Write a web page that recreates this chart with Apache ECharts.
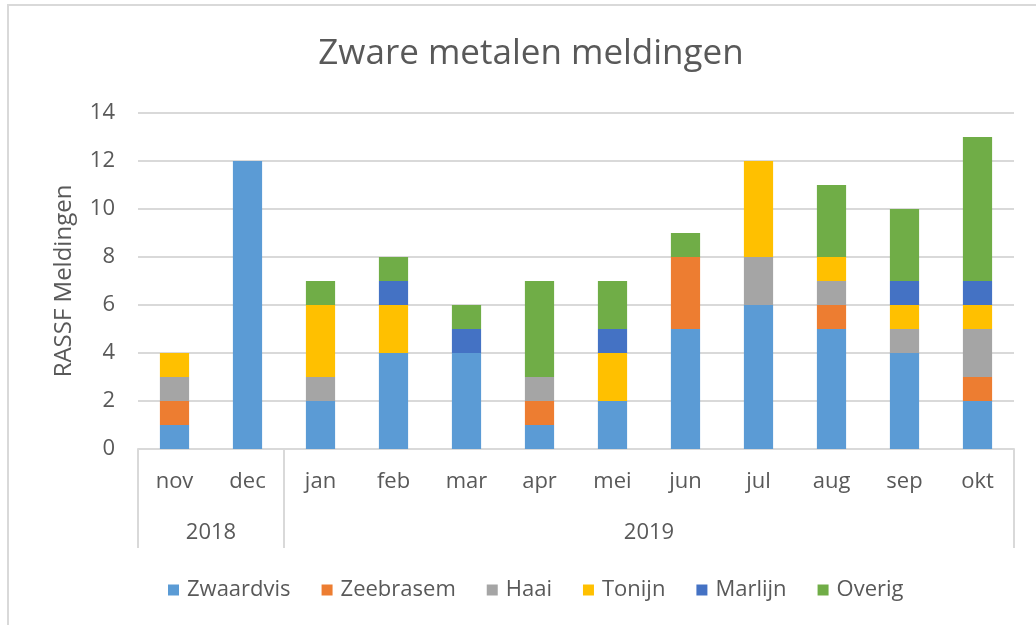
<!DOCTYPE html>
<html>
<head>
<meta charset="utf-8">
<script src="https://cdn.jsdelivr.net/npm/echarts@6/dist/echarts.min.js"></script>
<style>
  html, body { margin: 0; padding: 0; background: #fff; }
  #chart { width: 1036px; height: 625px; }
</style>
</head>
<body>
<div id="chart"></div>
<script>
// maanden en jaren
const months = ["nov", "dec", "jan", "feb", "mar", "apr", "mei", "jun", "jul", "aug", "sep", "okt"]
const years = [
  { label: "2018", from: "nov", to: "dec" },
  { label: "2019", from: "jan", to: "okt" }
]

// meldingen per soort
const zwaardvis = [1, 12, 2, 4, 4, 1, 2, 5, 6, 5, 4, 2]
const zeebrasem = [1, 0, 0, 0, 0, 1, 0, 3, 0, 1, 0, 1]
const haai = [1, 0, 1, 0, 0, 1, 0, 0, 2, 1, 1, 2]
const tonijn = [1, 0, 3, 2, 0, 0, 2, 0, 4, 1, 1, 1]
const marlijn = [0, 0, 0, 1, 1, 0, 1, 0, 0, 0, 1, 1]
const overig = [0, 0, 1, 1, 1, 4, 2, 1, 0, 3, 3, 6]

const yTicks = { min: 0, max: 14, interval: 2 }

const fontName = "Open Sans"
const textColor = "#595959"
const lineColor = "#d9d9d9"
const labelSize = 22

const seriesList = [
  { name: "Zwaardvis", data: zwaardvis, color: "#5B9BD5" },
  { name: "Zeebrasem", data: zeebrasem, color: "#ED7D31" },
  { name: "Haai", data: haai, color: "#A5A5A5" },
  { name: "Tonijn", data: tonijn, color: "#FFC000" },
  { name: "Marlijn", data: marlijn, color: "#4472C4" },
  { name: "Overig", data: overig, color: "#70AD47" }
]

const chart = echarts.init(document.getElementById("chart"), null, { renderer: "canvas" })

const option = {
  backgroundColor: "#fff",
  animation: false,
  textStyle: { fontFamily: fontName },
  title: {
    text: "Zware metalen meldingen",
    left: 526,
    top: 32,
    textAlign: "center",
    textStyle: { fontFamily: fontName, fontSize: 35, fontWeight: "normal", color: textColor }
  },
  legend: {
    bottom: 19,
    left: 163,
    itemWidth: 11,
    itemHeight: 11,
    itemGap: 31,
    icon: "rect",
    textStyle: { fontFamily: fontName, fontSize: labelSize, color: textColor, padding: [0, 0, 0, 3] },
    data: seriesList.map((s) => s.name)
  },
  grid: {
    left: 138,
    right: 22,
    top: 113,
    bottom: 176
  },
  xAxis: {
    type: "category",
    data: months,
    axisLine: { show: true, lineStyle: { color: lineColor, width: 2 } },
    axisTick: { show: false },
    axisLabel: { fontFamily: fontName, fontSize: labelSize, color: textColor, margin: 22 }
  },
  yAxis: {
    type: "value",
    min: yTicks.min,
    max: yTicks.max,
    interval: yTicks.interval,
    name: "RASSF Meldingen",
    nameLocation: "middle",
    nameGap: 62,
    nameTextStyle: { fontFamily: fontName, fontSize: 24, color: textColor },
    axisLine: { show: false },
    axisTick: { show: false },
    splitLine: { lineStyle: { color: lineColor, width: 2 } },
    axisLabel: { fontFamily: fontName, fontSize: labelSize, color: textColor, margin: 23 }
  },
  series: seriesList.map((s) => ({
    name: s.name,
    type: "bar",
    stack: "totaal",
    barWidth: "40%",
    data: s.data,
    itemStyle: { color: s.color }
  }))
}

chart.setOption(option)

// jaar-rij onder de maanden: scheidingslijnen en labels via de as-schaal
const c0 = chart.convertToPixel({ xAxisIndex: 0 }, months[0])
const c1 = chart.convertToPixel({ xAxisIndex: 0 }, months[1])
const band = c1 - c0
const axisY = chart.convertToPixel({ yAxisIndex: 0 }, 0)
const rowBottom = axisY + 99

const graphics = [
  {
    type: "rect",
    shape: { x: 8, y: 5, width: 1200, height: 800 },
    style: { fill: null, stroke: lineColor, lineWidth: 2 },
    silent: true,
    z: -1
  }
]
const edges = new Set()
years.forEach((y) => {
  const left = chart.convertToPixel({ xAxisIndex: 0 }, y.from) - band / 2
  const right = chart.convertToPixel({ xAxisIndex: 0 }, y.to) + band / 2
  edges.add(Math.round(left))
  edges.add(Math.round(right))
  graphics.push({
    type: "text",
    x: (left + right) / 2,
    y: axisY + 84,
    style: {
      text: y.label,
      fontFamily: fontName,
      fontSize: labelSize,
      fill: textColor,
      align: "center",
      verticalAlign: "middle"
    }
  })
})
edges.forEach((x) => {
  graphics.push({
    type: "line",
    shape: { x1: x, y1: axisY, x2: x, y2: rowBottom },
    style: { stroke: lineColor, lineWidth: 2 }
  })
})

chart.setOption({ graphic: graphics })
</script>
</body>
</html>
